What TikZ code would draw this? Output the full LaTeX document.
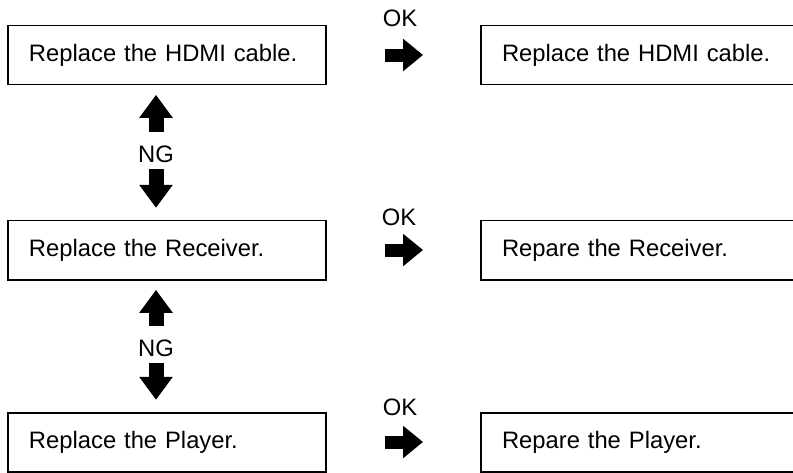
\documentclass[tikz,border=0pt]{standalone}
\usepackage{fontspec}
\setmainfont{Liberation Sans}
\usepackage{xcolor}
\usetikzlibrary{arrows.meta}
\definecolor{ink}{HTML}{000000}

\begin{document}
\begin{tikzpicture}[x=0.03cm,y=-0.03cm,every node/.style={font=\fontsize{20.3}{24}\selectfont,text=ink},
   stepbox/.style={draw=ink,line width=1.7pt,minimum width=9.54cm,minimum height=1.77cm,
     inner xsep=0.63cm,text width=8.28cm,align=left},
   cutbox/.style={stepbox,anchor=west,minimum width=10.5cm,text width=9.24cm},
   blk/.style={draw=ink,line width=0.39cm,-{Triangle[width=0.94cm,length=0.6cm]}},
   vblk/.style={draw=ink,line width=0.45cm,-{Triangle[width=0.96cm,length=0.69cm]}},
   up/.style={vblk,shorten <=0.67cm,shorten >=0.28cm},
   down/.style={vblk,shorten <=0.45cm,shorten >=0.35cm},
   okarr/.style={blk,shorten <=1.74cm,shorten >=1.71cm}]
\useasboundingbox (0,0) rectangle (793,472);
\clip (0,0) rectangle (793,472);
% left column
\node[stepbox] (b1) at (167,55)  {Replace the HDMI cable.};
\node[stepbox] (b2) at (167,250) {Replace the Receiver.};
\node[stepbox] (b3) at (167,442) {Replace the Player.};
% right column (runs past the page edge)
\node[cutbox] (r1) at (480,55)  {Replace the HDMI cable.};
\node[cutbox] (r2) at (480,250) {Repare the Receiver.};
\node[cutbox] (r3) at (480,442) {Repare the Player.};
% labels
\node (ok1) at (400,18)  {OK};
\node (ok2) at (399,217) {OK};
\node (ok3) at (400,407) {OK};
\node (ng1) at (156,154) {NG};
\node (ng2) at (156,348) {NG};
% OK arrows
\draw[okarr] (b1.east) -- (r1.west);
\draw[okarr] (b2.east) -- (r2.west);
\draw[okarr] (b3.east) -- (r3.west);
% NG arrows
\draw[up]   (ng1.center) -- (ng1.center |- b1.south);
\draw[down] (ng1.center) -- (ng1.center |- b2.north);
\draw[up]   (ng2.center) -- (ng2.center |- b2.south);
\draw[down] (ng2.center) -- (ng2.center |- b3.north);
\end{tikzpicture}
\end{document}
